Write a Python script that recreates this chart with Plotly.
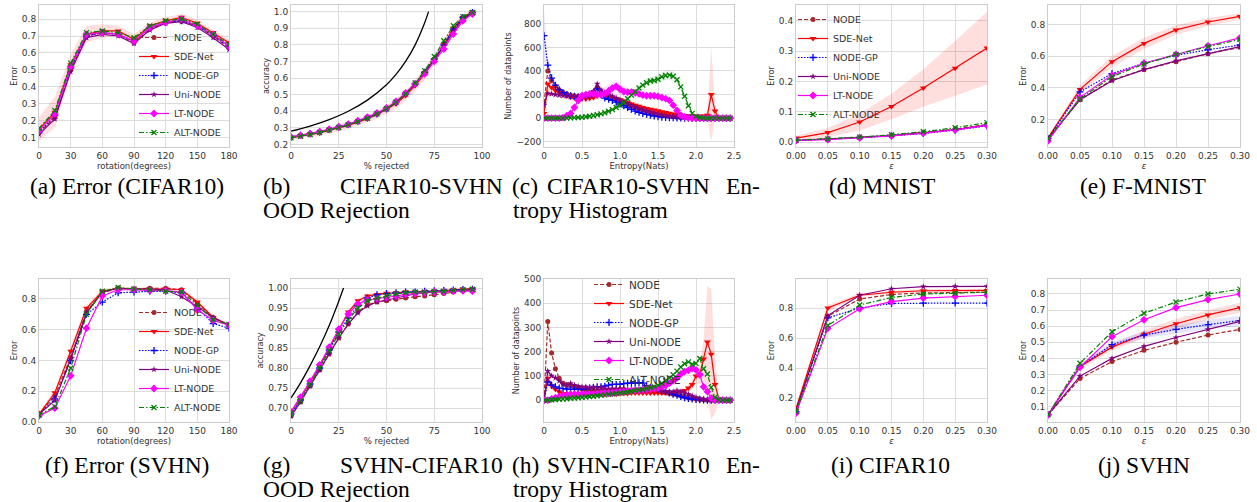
import plotly.graph_objects as go

# ---------------- data ----------------
MODELS = ["NODE", "SDE-Net", "NODE-GP", "Uni-NODE", "LT-NODE", "ALT-NODE"]

ROT_X = [0, 15, 30, 45, 60, 75, 90, 105, 120, 135, 150, 165, 180]
REJ_X = [0, 5, 10, 15, 20, 25, 30, 35, 40, 45, 50, 55, 60, 65, 70, 75, 80, 85, 90, 95]
ENT_X = [0.0, 0.05, 0.1, 0.15, 0.2, 0.25, 0.3, 0.35, 0.4, 0.45,
         0.5, 0.55, 0.6, 0.65, 0.7, 0.75, 0.8, 0.85, 0.9, 0.95,
         1.0, 1.05, 1.1, 1.15, 1.2, 1.25, 1.3, 1.35, 1.4, 1.45,
         1.5, 1.55, 1.6, 1.65, 1.7, 1.75, 1.8, 1.85, 1.9, 1.95,
         2.0, 2.05, 2.1, 2.15, 2.2, 2.25, 2.3, 2.35, 2.4, 2.45]
EPS_X = [0.0, 0.05, 0.10, 0.15, 0.20, 0.25, 0.30]

# (a) Error (CIFAR10) vs rotation
A_NODE = [0.13, 0.22, 0.50, 0.70, 0.72, 0.71, 0.66, 0.74, 0.78, 0.79, 0.76, 0.70, 0.63]
A_SDE = [0.15, 0.25, 0.53, 0.71, 0.73, 0.73, 0.68, 0.76, 0.79, 0.81, 0.775, 0.72, 0.66]
A_GP = [0.13, 0.23, 0.51, 0.70, 0.72, 0.71, 0.67, 0.75, 0.78, 0.79, 0.76, 0.70, 0.64]
A_UNI = [0.12, 0.21, 0.49, 0.69, 0.71, 0.70, 0.655, 0.735, 0.775, 0.785, 0.75, 0.69, 0.62]
A_LT = [0.14, 0.24, 0.52, 0.71, 0.72, 0.71, 0.67, 0.75, 0.78, 0.80, 0.76, 0.71, 0.64]
A_ALT = [0.155, 0.26, 0.54, 0.72, 0.73, 0.72, 0.69, 0.76, 0.79, 0.80, 0.77, 0.71, 0.65]
A_SDE_STD = [0.07, 0.09, 0.06, 0.05, 0.04, 0.03, 0.03, 0.02, 0.02, 0.02, 0.02, 0.02, 0.02]

# (b) CIFAR10-SVHN OOD rejection
B_NODE = [0.245, 0.255, 0.265, 0.275, 0.29, 0.305, 0.32, 0.34, 0.36, 0.385, 0.415, 0.455, 0.505, 0.565, 0.635, 0.715, 0.80, 0.89, 0.96, 0.99]
B_SDE = [0.24, 0.25, 0.26, 0.27, 0.285, 0.30, 0.315, 0.335, 0.355, 0.38, 0.41, 0.445, 0.495, 0.555, 0.625, 0.71, 0.80, 0.90, 0.965, 1.0]
B_GP = [0.245, 0.255, 0.265, 0.275, 0.29, 0.305, 0.32, 0.34, 0.36, 0.385, 0.415, 0.455, 0.505, 0.565, 0.635, 0.715, 0.80, 0.895, 0.965, 0.995]
B_UNI = [0.245, 0.255, 0.265, 0.275, 0.29, 0.305, 0.32, 0.34, 0.36, 0.385, 0.415, 0.455, 0.505, 0.565, 0.635, 0.71, 0.79, 0.88, 0.955, 0.99]
B_LT = [0.245, 0.255, 0.265, 0.278, 0.292, 0.307, 0.323, 0.343, 0.365, 0.39, 0.42, 0.46, 0.51, 0.565, 0.625, 0.70, 0.775, 0.865, 0.945, 0.985]
B_ALT = [0.24, 0.25, 0.26, 0.272, 0.287, 0.302, 0.318, 0.338, 0.358, 0.385, 0.415, 0.455, 0.505, 0.57, 0.645, 0.73, 0.825, 0.915, 0.97, 0.995]
B_SDE_STD = [0.015, 0.015, 0.015, 0.015, 0.015, 0.02, 0.02, 0.02, 0.02, 0.025, 0.025, 0.03, 0.03, 0.035, 0.035, 0.035, 0.03, 0.025, 0.02, 0.01]
B_ORACLE_X = [0, 10, 20, 30, 40, 50, 55, 60, 65, 70, 72]
B_ORACLE_Y = [0.28, 0.311, 0.35, 0.40, 0.467, 0.56, 0.622, 0.70, 0.80, 0.933, 1.0]

# (c) CIFAR10-SVHN entropy histogram
C_NODE = [130, 400, 320, 270, 240, 220, 205, 195, 190, 185,
          185, 190, 200, 220, 260, 220, 200, 185, 170, 160,
          145, 130, 115, 100, 90, 78, 68, 58, 50, 42,
          35, 28, 22, 17, 13, 10, 7, 5, 3, 2,
          1, 0, 0, 0, 0, 0, 0, 0, 0, 0]
C_SDE = [40, 290, 260, 235, 215, 200, 190, 180, 172, 168,
         165, 165, 168, 175, 190, 200, 195, 185, 175, 165,
         155, 145, 130, 120, 110, 100, 90, 82, 75, 68,
         62, 55, 48, 42, 36, 30, 25, 22, 20, 18,
         15, 15, 18, 25, 200, 60, 0, 0, 0, 0]
C_GP = [700, 450, 340, 280, 240, 215, 200, 190, 185, 180,
        178, 180, 185, 200, 250, 200, 170, 160, 150, 135,
        120, 105, 90, 75, 60, 50, 40, 32, 25, 18,
        12, 8, 6, 4, 3, 2, 1, 0, 0, 0,
        0, 0, 0, 0, 0, 0, 0, 0, 0, 0]
C_UNI = [110, 210, 205, 200, 195, 190, 188, 185, 185, 185,
         188, 192, 200, 230, 290, 240, 215, 200, 185, 170,
         155, 140, 125, 110, 95, 82, 70, 60, 50, 42,
         35, 28, 22, 17, 13, 10, 7, 5, 3, 2,
         1, 0, 0, 0, 0, 0, 0, 0, 0, 0]
C_LT = [0, 0, 0, 0, 0, 5, 20, 40, 90, 150,
        190, 200, 205, 205, 200, 200, 210, 230, 255, 270,
        245, 225, 220, 220, 215, 205, 195, 190, 190, 190,
        185, 175, 165, 150, 110, 65, 25, 10, 4, 1,
        0, 0, 0, 0, 0, 0, 0, 0, 0, 0]
C_ALT = [0, 0, 0, 0, 0, 0, 0, 2, 4, 6,
         8, 12, 16, 22, 28, 36, 45, 58, 72, 90,
         110, 130, 165, 195, 225, 255, 280, 300, 315, 320,
         330, 350, 362, 365, 355, 325, 265, 185, 105, 40,
         15, 5, 2, 0, 0, 0, 0, 0, 0, 0]
C_SDE_STD = [30, 80, 60, 50, 40, 35, 30, 30, 30, 30,
             30, 30, 30, 30, 30, 30, 30, 30, 30, 30,
             25, 25, 20, 20, 20, 20, 20, 20, 20, 20,
             15, 15, 15, 15, 15, 15, 15, 15, 15, 15,
             15, 15, 15, 30, 400, 60, 0, 0, 0, 0]
C_GP_STD = [220, 40, 25, 15, 10, 8, 6, 5, 5, 5,
            5, 5, 5, 8, 15, 8, 5, 5, 5, 5,
            5, 5, 5, 4, 4, 3, 3, 3, 2, 2,
            2, 2, 1, 1, 1, 1, 1, 0, 0, 0,
            0, 0, 0, 0, 0, 0, 0, 0, 0, 0]
C_LT_STD = [0, 0, 0, 0, 0, 2, 5, 10, 15, 20,
            25, 30, 35, 40, 45, 50, 55, 60, 60, 55,
            50, 45, 40, 35, 30, 25, 20, 20, 20, 20,
            20, 20, 20, 18, 15, 12, 10, 8, 5, 3,
            2, 1, 0, 0, 0, 0, 0, 0, 0, 0]
C_ALT_STD = [0, 0, 0, 0, 0, 0, 0, 0, 0, 0,
             0, 0, 0, 0, 0, 5, 5, 8, 10, 12,
             15, 18, 20, 22, 25, 28, 30, 32, 35, 35,
             38, 40, 40, 42, 40, 35, 30, 25, 20, 12,
             6, 3, 1, 0, 0, 0, 0, 0, 0, 0]

# (d) MNIST adversarial
D_NODE = [0.005, 0.009, 0.015, 0.022, 0.031, 0.042, 0.058]
D_SDE = [0.013, 0.031, 0.066, 0.117, 0.178, 0.243, 0.31]
D_GP = [0.005, 0.009, 0.014, 0.020, 0.028, 0.039, 0.053]
D_UNI = [0.005, 0.009, 0.015, 0.022, 0.030, 0.041, 0.056]
D_LT = [0.005, 0.008, 0.014, 0.020, 0.029, 0.040, 0.055]
D_ALT = [0.006, 0.010, 0.016, 0.024, 0.034, 0.047, 0.064]
D_SDE_STD = [0.008, 0.015, 0.028, 0.042, 0.062, 0.09, 0.12]

# (e) F-MNIST adversarial
E_NODE = [0.08, 0.325, 0.45, 0.515, 0.565, 0.615, 0.655]
E_SDE = [0.085, 0.39, 0.565, 0.68, 0.765, 0.815, 0.85]
E_GP = [0.08, 0.375, 0.49, 0.555, 0.605, 0.64, 0.67]
E_UNI = [0.075, 0.325, 0.445, 0.515, 0.57, 0.615, 0.66]
E_LT = [0.065, 0.34, 0.48, 0.555, 0.61, 0.665, 0.715]
E_ALT = [0.08, 0.33, 0.47, 0.55, 0.61, 0.66, 0.705]
E_SDE_STD = [0.01, 0.025, 0.035, 0.035, 0.03, 0.025, 0.02]

# (f) Error (SVHN) vs rotation
F_NODE = [0.05, 0.17, 0.42, 0.72, 0.84, 0.87, 0.865, 0.87, 0.87, 0.86, 0.77, 0.68, 0.63]
F_SDE = [0.05, 0.19, 0.46, 0.74, 0.85, 0.87, 0.865, 0.865, 0.865, 0.86, 0.78, 0.68, 0.63]
F_GP = [0.05, 0.15, 0.40, 0.70, 0.78, 0.84, 0.845, 0.85, 0.85, 0.84, 0.74, 0.64, 0.61]
F_UNI = [0.05, 0.14, 0.41, 0.71, 0.845, 0.87, 0.865, 0.865, 0.86, 0.815, 0.75, 0.68, 0.63]
F_LT = [0.04, 0.09, 0.30, 0.61, 0.82, 0.86, 0.86, 0.855, 0.855, 0.845, 0.73, 0.66, 0.63]
F_ALT = [0.045, 0.10, 0.35, 0.70, 0.85, 0.875, 0.865, 0.86, 0.85, 0.845, 0.76, 0.665, 0.635]
F_SDE_STD = [0.01, 0.02, 0.03, 0.02, 0.015, 0.01, 0.01, 0.01, 0.01, 0.01, 0.015, 0.015, 0.01]

# (g) SVHN-CIFAR10 OOD rejection
G_NODE = [0.68, 0.715, 0.755, 0.795, 0.835, 0.875, 0.91, 0.94, 0.958, 0.965, 0.968, 0.972, 0.975, 0.978, 0.98, 0.983, 0.986, 0.99, 0.993, 0.995]
G_SDE = [0.69, 0.725, 0.765, 0.805, 0.85, 0.895, 0.94, 0.968, 0.98, 0.984, 0.987, 0.988, 0.99, 0.99, 0.991, 0.992, 0.993, 0.995, 0.997, 0.998]
G_GP = [0.685, 0.72, 0.76, 0.80, 0.845, 0.89, 0.925, 0.955, 0.975, 0.983, 0.986, 0.988, 0.99, 0.99, 0.992, 0.993, 0.994, 0.995, 0.996, 0.997]
G_UNI = [0.68, 0.715, 0.755, 0.795, 0.835, 0.875, 0.91, 0.938, 0.955, 0.965, 0.97, 0.975, 0.98, 0.985, 0.988, 0.99, 0.99, 0.993, 0.995, 0.996]
G_LT = [0.69, 0.727, 0.767, 0.808, 0.852, 0.897, 0.935, 0.96, 0.97, 0.973, 0.976, 0.98, 0.984, 0.986, 0.988, 0.99, 0.99, 0.992, 0.993, 0.992]
G_ALT = [0.685, 0.718, 0.758, 0.80, 0.843, 0.885, 0.92, 0.95, 0.968, 0.975, 0.98, 0.985, 0.988, 0.99, 0.99, 0.991, 0.992, 0.994, 0.996, 0.997]
G_SDE_STD = [0.005, 0.005, 0.005, 0.005, 0.005, 0.005, 0.005, 0.005, 0.005, 0.004, 0.004, 0.004, 0.003, 0.003, 0.003, 0.003, 0.003, 0.003, 0.002, 0.002]
G_ORACLE_X = [0, 5, 10, 15, 20, 25, 27.5]
G_ORACLE_Y = [0.725, 0.763, 0.806, 0.853, 0.906, 0.967, 1.0]

# (h) SVHN-CIFAR10 entropy histogram
H_NODE = [0, 325, 195, 130, 90, 70, 65, 60, 55, 50,
          45, 42, 40, 38, 38, 38, 40, 40, 40, 42,
          45, 45, 42, 40, 40, 40, 40, 40, 40, 38,
          35, 33, 30, 28, 25, 22, 18, 14, 10, 7,
          5, 3, 2, 1, 0, 0, 0, 0, 0, 0]
H_SDE = [0, 90, 60, 45, 35, 28, 25, 25, 25, 25,
         25, 25, 25, 25, 25, 25, 25, 25, 25, 25,
         28, 28, 28, 30, 30, 30, 30, 30, 30, 30,
         30, 30, 32, 32, 33, 35, 35, 40, 50, 65,
         100, 105, 170, 240, 190, 65, 5, 0, 0, 0]
H_GP = [0, 75, 62, 55, 50, 48, 46, 45, 45, 45,
        45, 48, 50, 52, 55, 55, 58, 62, 65, 65,
        65, 68, 70, 70, 70, 72, 70, 60, 52, 48,
        44, 40, 36, 30, 25, 20, 15, 10, 7, 5,
        3, 2, 1, 0, 0, 0, 0, 0, 0, 0]
H_UNI = [0, 120, 100, 92, 80, 65, 60, 70, 62, 58,
         55, 55, 52, 55, 50, 52, 48, 45, 48, 46,
         45, 45, 43, 42, 42, 40, 40, 55, 55, 50,
         45, 40, 38, 35, 35, 40, 35, 30, 25, 18,
         12, 8, 4, 2, 1, 0, 0, 0, 0, 0]
H_LT = [0, 0, 5, 10, 15, 20, 22, 25, 25, 25,
        25, 25, 25, 25, 27, 28, 30, 30, 30, 32,
        33, 35, 37, 40, 41, 41, 42, 44, 46, 48,
        50, 55, 60, 70, 80, 92, 108, 118, 123, 130,
        125, 105, 55, 35, 8, 2, 0, 0, 0, 0]
H_ALT = [0, 0, 2, 3, 4, 5, 6, 8, 9, 10,
         12, 13, 15, 16, 18, 20, 22, 24, 26, 28,
         30, 32, 34, 37, 40, 42, 44, 48, 52, 56,
         62, 70, 80, 92, 105, 120, 137, 150, 158, 148,
         152, 172, 130, 108, 53, 12, 2, 0, 0, 0]
H_SDE_STD = [0, 30, 20, 10, 8, 6, 6, 6, 6, 6,
             6, 6, 6, 6, 6, 6, 6, 6, 6, 6,
             6, 6, 6, 6, 6, 6, 6, 6, 6, 6,
             6, 6, 6, 6, 6, 8, 8, 10, 15, 20,
             30, 40, 80, 230, 270, 120, 10, 0, 0, 0]

# (i) CIFAR10 adversarial
I_NODE = [0.12, 0.745, 0.86, 0.89, 0.90, 0.90, 0.905]
I_SDE = [0.13, 0.80, 0.885, 0.905, 0.915, 0.917, 0.917]
I_GP = [0.11, 0.735, 0.80, 0.83, 0.832, 0.833, 0.833]
I_UNI = [0.12, 0.75, 0.885, 0.928, 0.942, 0.944, 0.944]
I_LT = [0.10, 0.665, 0.795, 0.843, 0.866, 0.877, 0.885]
I_ALT = [0.11, 0.684, 0.82, 0.87, 0.893, 0.898, 0.905]
I_SDE_STD = [0.02, 0.02, 0.012, 0.01, 0.01, 0.01, 0.01]

# (j) SVHN adversarial
J_NODE = [0.05, 0.275, 0.38, 0.45, 0.50, 0.545, 0.58]
J_SDE = [0.05, 0.35, 0.47, 0.55, 0.615, 0.67, 0.715]
J_GP = [0.05, 0.35, 0.485, 0.545, 0.58, 0.61, 0.635]
J_UNI = [0.05, 0.29, 0.40, 0.475, 0.53, 0.58, 0.63]
J_LT = [0.05, 0.345, 0.535, 0.64, 0.715, 0.765, 0.80]
J_ALT = [0.05, 0.37, 0.565, 0.68, 0.75, 0.80, 0.83]
J_SDE_STD = [0.01, 0.02, 0.02, 0.025, 0.03, 0.03, 0.03]
J_GP_STD = [0.005, 0.01, 0.02, 0.02, 0.025, 0.03, 0.03]

ENT_TICKS = [0, 0.5, 1.0, 1.5, 2.0, 2.5]
ENT_TICKTEXT = ["0", "0.5", "1.0", "1.5", "2.0", "2.5"]

CAP_SINGLE = ["(a) Error (CIFAR10)", "(d) MNIST", "(e) F-MNIST",
              "(f) Error (SVHN)", "(i) CIFAR10", "(j) SVHN"]
CAP_OOD = [("(b)", "CIFAR10-SVHN", "OOD Rejection"), ("(g)", "SVHN-CIFAR10", "OOD Rejection")]
CAP_HIST = [("(c)", "CIFAR10-SVHN", "En-", "tropy Histogram"),
            ("(h)", "SVHN-CIFAR10", "En-", "tropy Histogram")]

# ---------------- style ----------------
W, H = 1257, 502
COLOR = {"NODE": "#a52a2a", "SDE-Net": "#ff0000", "NODE-GP": "#0000ff",
         "Uni-NODE": "#800080", "LT-NODE": "#ff00ff", "ALT-NODE": "#008000"}
BAND = {"SDE-Net": "rgba(255,0,0,0.13)", "NODE-GP": "rgba(0,0,255,0.10)",
        "LT-NODE": "rgba(255,0,255,0.10)", "ALT-NODE": "rgba(0,128,0,0.10)"}
DASH = {"NODE": "4px,2px", "SDE-Net": "solid", "NODE-GP": "1.5px,1.5px",
        "Uni-NODE": "solid", "LT-NODE": "solid", "ALT-NODE": "5px,2px,1.5px,2px"}
SYMBOL = {"NODE": "circle", "SDE-Net": "triangle-down", "NODE-GP": "cross-thin",
          "Uni-NODE": "star", "LT-NODE": "diamond", "ALT-NODE": "x-thin"}
MSIZE = {"NODE": 5, "SDE-Net": 6, "NODE-GP": 5, "Uni-NODE": 5, "LT-NODE": 6, "ALT-NODE": 5}

COLS = [(39, 229), (291, 482), (544, 734), (796, 987), (1048, 1240)]
ROWS = [(5, 147), (279, 422)]

TICKFONT = dict(family="DejaVu Sans", size=9, color="#333333")
TITLEFONT = dict(family="DejaVu Sans", size=8.5, color="#333333")

panels = [
    dict(x=ROT_X, ys=[A_NODE, A_SDE, A_GP, A_UNI, A_LT, A_ALT], bands={"SDE-Net": A_SDE_STD},
         xr=[0, 180], yr=[0.045, 0.883], xd=30, yd=0.1, yf=".1f", xt="rotation(degrees)", yt="Error", leg="legend"),
    dict(x=REJ_X, ys=[B_NODE, B_SDE, B_GP, B_UNI, B_LT, B_ALT], bands={"SDE-Net": B_SDE_STD},
         xr=[0, 100], yr=[0.185, 1.04], xd=25, yd=0.1, yf=".1f", xt="% rejected", yt="accuracy",
         oracle=(B_ORACLE_X, B_ORACLE_Y)),
    dict(x=ENT_X, ys=[C_NODE, C_SDE, C_GP, C_UNI, C_LT, C_ALT],
         bands={"SDE-Net": C_SDE_STD, "NODE-GP": C_GP_STD, "LT-NODE": C_LT_STD, "ALT-NODE": C_ALT_STD},
         xr=[0, 2.5], yr=[-245, 960], xd=None, yd=200, yf="d", xt="Entropy(Nats)", yt="Number of datapoints"),
    dict(x=EPS_X, ys=[D_NODE, D_SDE, D_GP, D_UNI, D_LT, D_ALT], bands={"SDE-Net": D_SDE_STD},
         xr=[0, 0.3], yr=[-0.0165, 0.452], xd=0.05, yd=0.1, yf=".1f", xt="<i>ε</i>", yt="Error", leg="legend2"),
    dict(x=EPS_X, ys=[E_NODE, E_SDE, E_GP, E_UNI, E_LT, E_ALT], bands={"SDE-Net": E_SDE_STD},
         xr=[0, 0.3], yr=[0.027, 0.922], xd=0.05, yd=0.2, yf=".1f", xt="<i>ε</i>", yt="Error"),
    dict(x=ROT_X, ys=[F_NODE, F_SDE, F_GP, F_UNI, F_LT, F_ALT], bands={"SDE-Net": F_SDE_STD},
         xr=[0, 180], yr=[0.0, 0.93], xd=30, yd=0.2, yf=".1f", xt="rotation(degrees)", yt="Error", leg="legend3"),
    dict(x=REJ_X, ys=[G_NODE, G_SDE, G_GP, G_UNI, G_LT, G_ALT], bands={"SDE-Net": G_SDE_STD},
         xr=[0, 100], yr=[0.665, 1.0225], xd=25, yd=0.05, yf=".2f", xt="% rejected", yt="accuracy",
         oracle=(G_ORACLE_X, G_ORACLE_Y)),
    dict(x=ENT_X, ys=[H_NODE, H_SDE, H_GP, H_UNI, H_LT, H_ALT], bands={"SDE-Net": H_SDE_STD},
         xr=[0, 2.5], yr=[-90, 500], xd=None, yd=100, yf="d", xt="Entropy(Nats)", yt="Number of datapoints", leg="legend4"),
    dict(x=EPS_X, ys=[I_NODE, I_SDE, I_GP, I_UNI, I_LT, I_ALT], bands={"SDE-Net": I_SDE_STD},
         xr=[0, 0.3], yr=[0.042, 0.993], xd=0.05, yd=0.2, yf=".1f", xt="<i>ε</i>", yt="Error"),
    dict(x=EPS_X, ys=[J_NODE, J_SDE, J_GP, J_UNI, J_LT, J_ALT], bands={"SDE-Net": J_SDE_STD, "NODE-GP": J_GP_STD},
         xr=[0, 0.3], yr=[0.005, 0.893], xd=0.05, yd=0.1, yf=".1f", xt="<i>ε</i>", yt="Error"),
]

fig = go.Figure()
layout = {}

for k, p in enumerate(panels, start=1):
    r, c = divmod(k - 1, 5)
    xl, xr_ = COLS[c]
    yt_, yb = ROWS[r]
    xname = "x" if k == 1 else f"x{k}"
    yname = "y" if k == 1 else f"y{k}"
    xkey = "xaxis" if k == 1 else f"xaxis{k}"
    ykey = "yaxis" if k == 1 else f"yaxis{k}"
    xax = dict(domain=[xl / W, xr_ / W], anchor=yname, range=p["xr"], showgrid=True, automargin=False,
               gridcolor="#dcdcdc", gridwidth=1, showline=True, mirror=True, linecolor="#cccccc",
               linewidth=1, zeroline=False, ticks="", tickfont=TICKFONT,
               title=dict(text=p["xt"], font=TITLEFONT, standoff=1))
    if p["xd"] is None:
        xax.update(tickmode="array", tickvals=ENT_TICKS, ticktext=ENT_TICKTEXT)
    else:
        xax.update(tick0=0, dtick=p["xd"])
        if p["xd"] < 1:
            xax.update(tickformat=".2f")
    yax = dict(domain=[1 - yb / H, 1 - yt_ / H], anchor=xname, range=p["yr"], showgrid=True, automargin=False,
               gridcolor="#dcdcdc", gridwidth=1, showline=True, mirror=True, linecolor="#cccccc",
               linewidth=1, zeroline=False, ticks="", tickfont=TICKFONT, tick0=0, dtick=p["yd"],
               tickformat=p["yf"], title=dict(text=p["yt"], font=dict(TITLEFONT, size=8), standoff=3))
    layout[xkey] = xax
    layout[ykey] = yax

    # shaded bands
    for m, std in p["bands"].items():
        y = p["ys"][MODELS.index(m)]
        up = [a + b for a, b in zip(y, std)]
        lo = [a - b for a, b in zip(y, std)]
        fig.add_trace(go.Scatter(x=list(p["x"]) + list(p["x"])[::-1], y=up + lo[::-1],
                                 fill="toself", fillcolor=BAND[m], line=dict(width=0),
                                 mode="lines", hoverinfo="skip", showlegend=False,
                                 xaxis=xname, yaxis=yname))
    if "oracle" in p:
        ox, oy = p["oracle"]
        fig.add_trace(go.Scatter(x=ox, y=oy, mode="lines", line=dict(color="black", width=1.3, shape="spline"),
                                 showlegend=False, xaxis=xname, yaxis=yname))
    leg = p.get("leg")
    for m, y in zip(MODELS, p["ys"]):
        thin = SYMBOL[m].endswith("thin")
        fig.add_trace(go.Scatter(
            x=p["x"], y=y, mode="lines+markers", name=m,
            line=dict(color=COLOR[m], width=1.2, dash=DASH[m]),
            marker=dict(symbol=SYMBOL[m], size=MSIZE[m], color=COLOR[m],
                        line=dict(color=COLOR[m], width=1.3 if thin else 0)),
            showlegend=leg is not None, legend=leg if leg else "legend",
            xaxis=xname, yaxis=yname))

LEGFONT = dict(family="DejaVu Sans", size=9.5, color="#333333")
leg_common = dict(bgcolor="rgba(255,255,255,0)", borderwidth=0, tracegroupgap=0, itemwidth=30)
layout["legend"] = dict(leg_common, x=134 / W, xanchor="left", y=1 - 147 / H, yanchor="bottom", font=LEGFONT)
layout["legend2"] = dict(leg_common, x=793 / W, xanchor="left", y=1 - 5 / H, yanchor="top", font=LEGFONT)
layout["legend3"] = dict(leg_common, x=134 / W, xanchor="left", y=1 - 422 / H, yanchor="bottom", font=LEGFONT)
layout["legend4"] = dict(leg_common, x=589 / W, xanchor="left", y=1 - 270 / H, yanchor="top",
                         font=dict(LEGFONT, size=10.5))

# captions
CAPFONT = dict(family="Liberation Serif", size=23.5, color="black")
ann = []
def cap(text, x, y, anchor):
    ann.append(dict(text=text, x=x / W, y=1 - y / H, xref="paper", yref="paper",
                    xanchor=anchor, yanchor="middle", showarrow=False, font=CAPFONT))

ROW_Y = [(186, 210), (465, 489)]
SINGLE_POS = [(127, 0), (882, 0), (1143, 0), (127, 1), (890, 1), (1144, 1)]
for text, (cx, r) in zip(CAP_SINGLE, SINGLE_POS):
    cap(text, cx, ROW_Y[r][0], "center")
for r, (lab, name, second) in enumerate(CAP_OOD):
    cap(lab, 261, ROW_Y[r][0], "left")
    cap(name, 505, ROW_Y[r][0], "right")
    cap(second, 261, ROW_Y[r][1], "left")
for r, (lab, name, tail, second) in enumerate(CAP_HIST):
    cap(lab, 510, ROW_Y[r][0], "left")
    cap(name, 545, ROW_Y[r][0], "left")
    cap(tail, 762, ROW_Y[r][0], "right")
    cap(second, 511, ROW_Y[r][1], "left")

layout.update(width=W, height=H, margin=dict(l=0, r=0, t=0, b=0, autoexpand=False), paper_bgcolor="white",
              plot_bgcolor="white", annotations=ann, font=dict(family="DejaVu Sans"))
fig.update_layout(**layout)
fig.write_html("out.html", config={"displayModeBar": False},
               post_script="document.body.style.margin='0';document.body.style.overflow='hidden';")
